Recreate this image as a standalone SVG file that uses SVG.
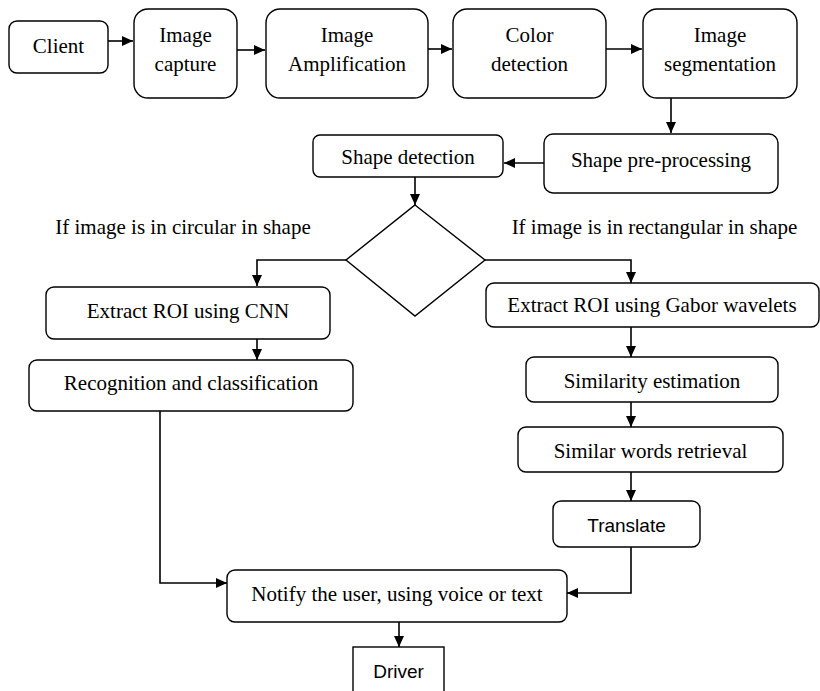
<svg xmlns="http://www.w3.org/2000/svg" width="820" height="691" viewBox="0 0 820 691">
<style>
.box{fill:#fff;stroke:#000;stroke-width:1.4}
.t{font-family:"Liberation Serif","Times New Roman",serif;font-size:21px;fill:#000;text-anchor:middle}
.s{font-family:"Liberation Sans",Arial,sans-serif;font-size:19px;fill:#000;text-anchor:middle}
.c{fill:none;stroke:#000;stroke-width:1.6}
</style>
<defs>
<marker id="ah" markerUnits="userSpaceOnUse" markerWidth="12" markerHeight="10" refX="11" refY="5" orient="auto">
<path d="M0,0 L11,5 L0,10 Z" fill="#000"/>
</marker>
</defs>
<rect width="820" height="691" fill="#fff"/>
<g id="connectors">
<line class="c" x1="108" y1="41" x2="133" y2="41" marker-end="url(#ah)"/>
<line class="c" x1="237" y1="50" x2="265" y2="50" marker-end="url(#ah)"/>
<line class="c" x1="428" y1="49" x2="452" y2="49" marker-end="url(#ah)"/>
<line class="c" x1="606" y1="49" x2="642" y2="49" marker-end="url(#ah)"/>
<line class="c" x1="671" y1="98" x2="671" y2="133" marker-end="url(#ah)"/>
<line class="c" x1="544" y1="163" x2="504" y2="163" marker-end="url(#ah)"/>
<line class="c" x1="415" y1="177" x2="415" y2="205" marker-end="url(#ah)"/>
<polyline class="c" points="346,260 257,260 257,286" marker-end="url(#ah)"/>
<polyline class="c" points="485,260 631,260 631,283" marker-end="url(#ah)"/>
<line class="c" x1="257" y1="339" x2="257" y2="360" marker-end="url(#ah)"/>
<line class="c" x1="631" y1="327" x2="631" y2="357" marker-end="url(#ah)"/>
<line class="c" x1="631" y1="402" x2="631" y2="427" marker-end="url(#ah)"/>
<line class="c" x1="631" y1="472" x2="631" y2="501" marker-end="url(#ah)"/>
<polyline class="c" points="160,411 160,583 227,583" marker-end="url(#ah)"/>
<polyline class="c" points="631,547 631,593 567,593" marker-end="url(#ah)"/>
<line class="c" x1="399" y1="622" x2="399" y2="647" marker-end="url(#ah)"/>
</g>
<g id="client"><rect class="box" x="9" y="21" width="99" height="52" rx="8"/><text class="t" x="58.5" y="53">Client</text></g>
<g id="capture"><rect class="box" x="134" y="9" width="103" height="89" rx="14"/><text class="t" x="185.5" y="42">Image</text><text class="t" x="185.5" y="71">capture</text></g>
<g id="amplification"><rect class="box" x="266" y="9" width="162" height="89" rx="14"/><text class="t" x="347" y="42">Image</text><text class="t" x="347" y="71">Amplification</text></g>
<g id="color"><rect class="box" x="453" y="9" width="153" height="89" rx="14"/><text class="t" x="529.5" y="42">Color</text><text class="t" x="529.5" y="71">detection</text></g>
<g id="segmentation"><rect class="box" x="643" y="9" width="154" height="89" rx="14"/><text class="t" x="720" y="42">Image</text><text class="t" x="720" y="71">segmentation</text></g>
<g id="preprocessing"><rect class="box" x="544" y="134" width="234" height="59" rx="9"/><text class="t" x="661" y="167">Shape pre-processing</text></g>
<g id="shapedetection"><rect class="box" x="313" y="135" width="190" height="42" rx="7"/><text class="t" x="408" y="164">Shape detection</text></g>
<g id="decision"><polygon class="box" points="415,205 485,260 415,316 346,260"/></g>
<g id="labels"><text class="t" x="183" y="234">If image is in circular in shape</text><text class="t" x="654.5" y="234">If image is in rectangular in shape</text></g>
<g id="cnn"><rect class="box" x="46" y="287" width="284" height="52" rx="8"/><text class="t" x="188" y="318">Extract ROI using CNN</text></g>
<g id="recognition"><rect class="box" x="29" y="360" width="324" height="51" rx="8"/><text class="t" x="191" y="390">Recognition and classification</text></g>
<g id="gabor"><rect class="box" x="486" y="283" width="333" height="44" rx="8"/><text class="t" x="652" y="312">Extract ROI using Gabor wavelets</text></g>
<g id="similarity"><rect class="box" x="526" y="357" width="252" height="45" rx="8"/><text class="t" x="652" y="388">Similarity estimation</text></g>
<g id="retrieval"><rect class="box" x="518" y="427" width="265" height="45" rx="8"/><text class="t" x="650.5" y="458">Similar words retrieval</text></g>
<g id="translate"><rect class="box" x="553" y="501" width="147" height="46" rx="8"/><text class="s" x="626.5" y="532">Translate</text></g>
<g id="notify"><rect class="box" x="227" y="570" width="340" height="52" rx="8"/><text class="t" x="397" y="601">Notify the user, using voice or text</text></g>
<g id="driver"><rect class="box" x="353" y="647" width="91" height="50"/><text class="s" x="398.5" y="678">Driver</text></g>
</svg>
